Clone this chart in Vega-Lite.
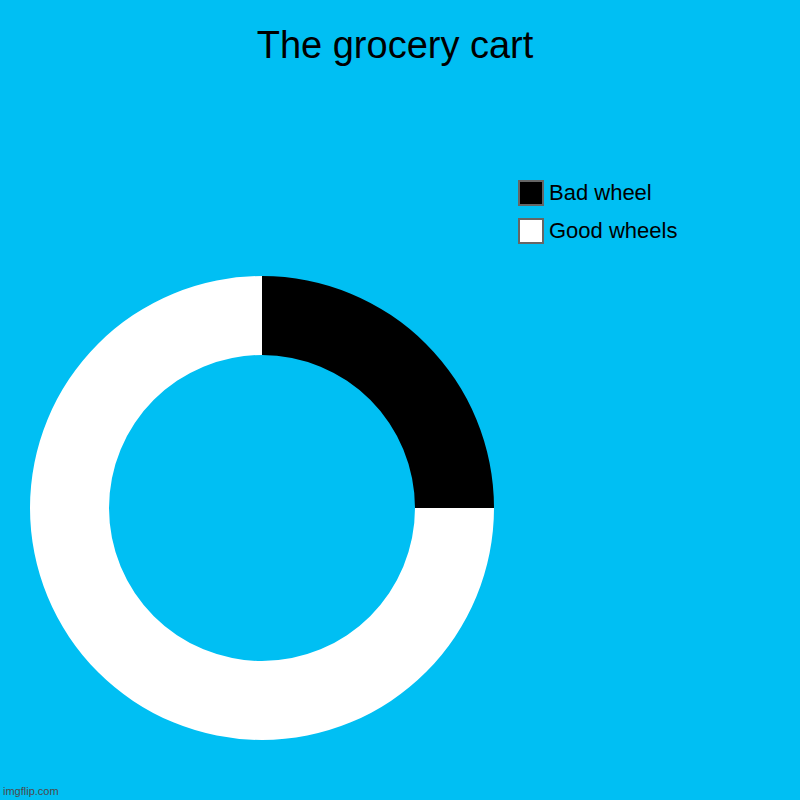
{
  "$schema": "https://vega.github.io/schema/vega-lite/v6.json",
  "autosize": "none",
  "width": 464,
  "height": 464,
  "padding": {"left": 30, "top": 276, "right": 306, "bottom": 60},
  "background": "#00bff3",
  "title": {
    "text": "The grocery cart",
    "anchor": "middle",
    "frame": "group",
    "dx": 133,
    "offset": 114,
    "fontSize": 38,
    "font": "Liberation Sans",
    "fontWeight": "normal",
    "color": "#000000"
  },
  "layer": [
    {
      "data": {
        "values": [
          {"label": "Bad wheel", "value": 1, "order": 1},
          {"label": "Good wheels", "value": 3, "order": 2}
        ]
      },
      "mark": {"type": "arc", "outerRadius": 232, "innerRadius": 153},
      "encoding": {
        "theta": {"field": "value", "type": "quantitative", "stack": true},
        "order": {"field": "order", "type": "quantitative"},
        "color": {
          "field": "label",
          "type": "nominal",
          "scale": {"domain": ["Bad wheel", "Good wheels"], "range": ["#000000", "#ffffff"]},
          "legend": {
            "title": null,
            "orient": "none",
            "legendX": 488,
            "legendY": -96,
            "symbolType": "square",
            "symbolSize": 576,
            "symbolStrokeColor": "#666666",
            "symbolStrokeWidth": 2,
            "symbolOpacity": 1,
            "labelFont": "Liberation Sans",
            "labelFontSize": 22,
            "labelColor": "#000000",
            "labelOffset": 5,
            "rowPadding": 6
          }
        }
      }
    },
    {
      "data": {"values": [{"text": "imgflip.com"}]},
      "mark": {
        "type": "text",
        "align": "left",
        "baseline": "alphabetic",
        "font": "Liberation Sans",
        "fontSize": 11,
        "color": "#4a4a4a",
        "x": -27,
        "y": 519
      },
      "encoding": {"text": {"field": "text", "type": "nominal"}}
    }
  ]
}
